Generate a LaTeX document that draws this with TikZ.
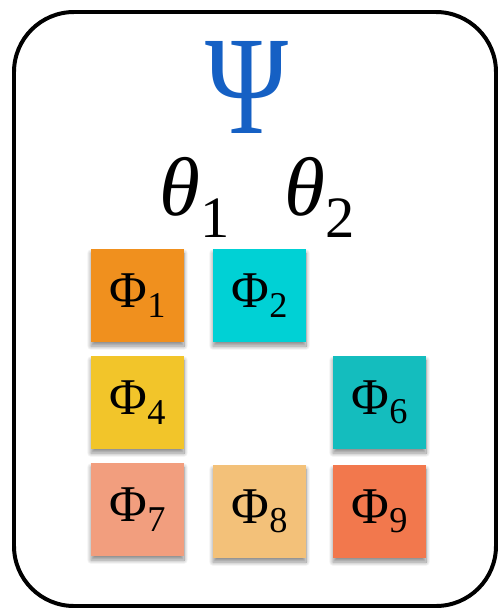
\documentclass[tikz,border=0pt]{standalone}
\usepackage{fontspec}
\setmainfont{Liberation Serif}
\usetikzlibrary{shadows.blur}
\definecolor{psiblue}{HTML}{1560C4}
\definecolor{phiorange}{HTML}{F0901E}
\definecolor{phicyan}{HTML}{00D1D5}
\definecolor{phiyellow}{HTML}{F2C52A}
\definecolor{phiteal}{HTML}{14BDBE}
\definecolor{phisalmon}{HTML}{F29E7E}
\definecolor{phisand}{HTML}{F3C179}
\definecolor{phicoral}{HTML}{F2784D}

\begin{document}
\begin{tikzpicture}[x=0.03cm,y=-0.03cm,
  phibox/.style={minimum size=2.79cm,inner sep=0pt,
    blur shadow={shadow xshift=0pt,shadow yshift=-3.5pt,shadow blur radius=3.5pt,
      shadow blur steps=12,shadow opacity=45},
    font=\fontsize{44}{44}\selectfont}]
  \useasboundingbox (0,0) rectangle (499,611);
  \draw[line width=3.4pt,rounded corners=1.8cm] (14,12) rectangle (496,606);
  \node[psiblue,xscale=0.8,font=\fontsize{120}{120}\selectfont] (psi) at (247,87) {Ψ};
  \node[font=\fontsize{71}{71}\selectfont,anchor=base] (theta1) at (195,215)
    {\textit{θ}\raisebox{-19pt}{\fontsize{50}{50}\selectfont 1}};
  \node[font=\fontsize{71}{71}\selectfont,anchor=base] (theta2) at (320,215)
    {\textit{θ}\raisebox{-19pt}{\fontsize{50}{50}\selectfont 2}};
  % basis blocks
  \node[phibox,fill=phiorange] (phi1) at (137.5,295.5) {Φ\raisebox{-8pt}{\fontsize{31}{31}\selectfont 1}};
  \node[phibox,fill=phicyan] (phi2) at (259.5,295.5) {Φ\raisebox{-8pt}{\fontsize{31}{31}\selectfont 2}};
  \node[phibox,fill=phiyellow] (phi4) at (137.5,402.5) {Φ\raisebox{-8pt}{\fontsize{31}{31}\selectfont 4}};
  \node[phibox,fill=phiteal] (phi6) at (379.5,402.5) {Φ\raisebox{-8pt}{\fontsize{31}{31}\selectfont 6}};
  \node[phibox,fill=phisalmon] (phi7) at (137.5,509.5) {Φ\raisebox{-8pt}{\fontsize{31}{31}\selectfont 7}};
  \node[phibox,fill=phisand] (phi8) at (259.5,511.5) {Φ\raisebox{-8pt}{\fontsize{31}{31}\selectfont 8}};
  \node[phibox,fill=phicoral] (phi9) at (379.5,511.5) {Φ\raisebox{-8pt}{\fontsize{31}{31}\selectfont 9}};
\end{tikzpicture}
\end{document}
